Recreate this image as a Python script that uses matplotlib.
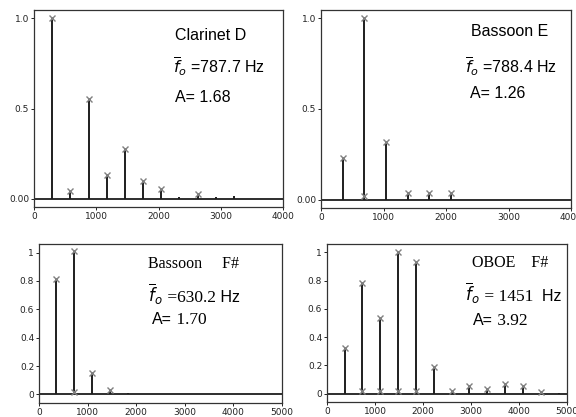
import matplotlib.pyplot as plt
import numpy as np

# spectral peaks (Hz, normalised amplitude)
clar_f = [292, 584, 876, 1168, 1460, 1752, 2044, 2336, 2628, 2920, 3212]
clar_a = [1.0, 0.045, 0.555, 0.13, 0.275, 0.10, 0.055, 0.01, 0.025, 0.01, 0.015]
clar_mark = [1, 1, 1, 1, 1, 1, 1, 0, 1, 0, 0]

basE_f = [347, 694, 1041, 1388, 1735, 2082]
basE_a = [0.23, 1.0, 0.32, 0.04, 0.04, 0.04]
basE_mark = [1, 1, 1, 1, 1, 1]
basE_low_f = [694]
basE_low_a = [0.02]

basF_f = [360, 725, 1100, 1470, 1840]
basF_a = [0.815, 1.01, 0.15, 0.03, 0.01]
basF_mark = [1, 1, 1, 1, 0]
basF_low_f = [725]
basF_low_a = [0.02]

oboe_f = [369, 738, 1110, 1476, 1845, 2221, 2597, 2966, 3336, 3711, 4081, 4457, 4826]
oboe_a = [0.32, 0.785, 0.535, 1.0, 0.93, 0.185, 0.02, 0.055, 0.03, 0.07, 0.055, 0.012, 0.005]
oboe_mark = [1, 1, 1, 1, 1, 1, 1, 1, 1, 1, 1, 1, 0]
oboe_low_f = [738, 1110, 1476, 1845]
oboe_low_a = [0.015, 0.015, 0.02, 0.02]

W, H = 576, 417
fig = plt.figure(figsize=(W / 100, H / 100), dpi=100)
sans = 'Liberation Sans'
serif = 'Liberation Serif'


def make_ax(l, r, t, b):
    return fig.add_axes([l / W, 1 - b / H, (r - l) / W, (b - t) / H])


def draw(ax, f, a, mark, low_f=None, low_a=None):
    ax.vlines(f, 0, a, color='#1e1e1e', lw=1.4)
    ax.axhline(0, color='#1e1e1e', lw=1.3)
    f = np.array(f)
    a = np.array(a)
    m = np.array(mark, dtype=bool)
    ax.plot(f[m], a[m], 'x', color='#808080', ms=4.5, mew=1.0)
    if low_f is not None:
        ax.plot(low_f, low_a, 'x', color='#808080', ms=4.5, mew=1.0)
    for s in ax.spines.values():
        s.set_color('#333333')
        s.set_linewidth(0.9)
    ax.tick_params(labelsize=6.5, length=2, width=0.7, pad=1.5, colors='#222222')


def chain(ax, x, y, parts):
    # pieces of text in different fonts on one baseline
    r = fig.canvas.get_renderer()
    for s, kw in parts:
        t = ax.text(x, y, s, transform=ax.transAxes, va='baseline', **kw)
        bb = t.get_window_extent(r)
        x = ax.transAxes.inverted().transform((bb.x1, bb.y0))[0]


# top left - clarinet
ax1 = make_ax(34, 283, 10, 207)
draw(ax1, clar_f, clar_a, clar_mark)
ax1.set_xlim(0, 4000)
ax1.set_ylim(-0.045, 1.045)
ax1.set_xticks([0, 1000, 2000, 3000, 4000])
ax1.set_yticks([0, 0.5, 1.0], ['0.00', '0.5', '1.0'])
ax1.text(0.566, 0.873, 'Clarinet D', transform=ax1.transAxes, fontsize=11.5,
         family=sans, va='center')
ax1.text(0.558, 0.711, r'$\overline{f}_o$ =787.7 Hz', transform=ax1.transAxes,
         fontsize=11.5, family=sans, va='center')
ax1.text(0.566, 0.558, 'A= 1.68', transform=ax1.transAxes, fontsize=11.5,
         family=sans, va='center')

# top right - bassoon E
ax2 = make_ax(321, 571, 10, 208)
draw(ax2, basE_f, basE_a, basE_mark, basE_low_f, basE_low_a)
ax2.set_xlim(0, 4000)
ax2.set_ylim(-0.045, 1.045)
ax2.set_xticks([0, 1000, 2000, 3000, 4000])
ax2.set_yticks([0, 0.5, 1.0], ['0.00', '0.5', '1.0'])
ax2.text(0.60, 0.889, 'Bassoon E', transform=ax2.transAxes, fontsize=11.5,
         family=sans, va='center')
ax2.text(0.576, 0.712, r'$\overline{f}_o$ =788.4 Hz', transform=ax2.transAxes,
         fontsize=11.5, family=sans, va='center')
ax2.text(0.596, 0.58, 'A= 1.26', transform=ax2.transAxes, fontsize=11.5,
         family=sans, va='center')

# bottom left - bassoon F#
ax3 = make_ax(39, 282, 244, 403)
draw(ax3, basF_f, basF_a, basF_mark, basF_low_f, basF_low_a)
ax3.set_xlim(0, 5000)
ax3.set_ylim(-0.06, 1.06)
ax3.set_xticks([0, 1000, 2000, 3000, 4000, 5000])
ax3.set_yticks([0, 0.2, 0.4, 0.6, 0.8, 1.0], ['0', '0.2', '0.4', '0.6', '0.8', '1'])
ax3.text(0.449, 0.849, 'Bassoon     F#', transform=ax3.transAxes, fontsize=11.5,
         family=serif, va='baseline')
chain(ax3, 0.449, 0.635, [(r'$\overline{f}_o$', dict(fontsize=12, family=sans)),
                          (' =630.2', dict(fontsize=12.5, family=serif)),
                          (' Hz', dict(fontsize=11.5, family=sans))])
chain(ax3, 0.465, 0.497, [('A=', dict(fontsize=11.5, family=sans)),
                          (' 1.70', dict(fontsize=12.5, family=serif))])

# bottom right - oboe F#
ax4 = make_ax(327, 567, 244, 402)
draw(ax4, oboe_f, oboe_a, oboe_mark, oboe_low_f, oboe_low_a)
ax4.set_xlim(0, 5000)
ax4.set_ylim(-0.06, 1.06)
ax4.set_xticks([0, 1000, 2000, 3000, 4000, 5000])
ax4.set_yticks([0, 0.2, 0.4, 0.6, 0.8, 1.0], ['0', '0.2', '0.4', '0.6', '0.8', '1'])
ax4.text(0.604, 0.854, 'OBOE    F#', transform=ax4.transAxes, fontsize=11.5,
         family=serif, va='baseline')
chain(ax4, 0.575, 0.639, [(r'$\overline{f}_o$', dict(fontsize=12, family=sans)),
                          (' = 1451', dict(fontsize=12.5, family=serif)),
                          ('  Hz', dict(fontsize=11.5, family=sans))])
chain(ax4, 0.608, 0.487, [('A=', dict(fontsize=11.5, family=sans)),
                          (' 3.92', dict(fontsize=12.5, family=serif))])

fig.savefig('out.png', dpi=100)
